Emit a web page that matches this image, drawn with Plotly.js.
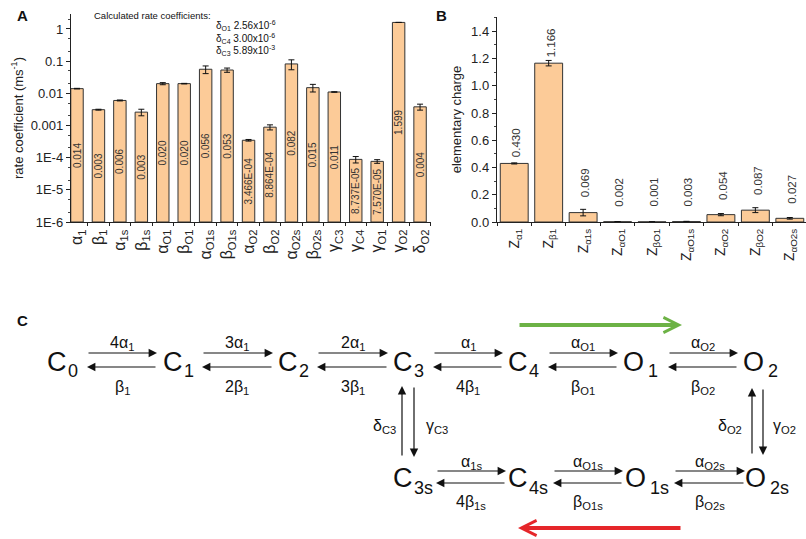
<!DOCTYPE html>
<html><head><meta charset="utf-8">
<script src="https://cdn.plot.ly/plotly-3.0.1.min.js"></script>
<style>html,body{margin:0;padding:0;background:#fff}#chart{width:806px;height:539px}</style>
</head><body><div id="chart"></div>
<script>
// ---------- Panel A data ----------
const rateLabels = ['α<sub>1</sub>','β<sub>1</sub>','α<sub>1s</sub>','β<sub>1s</sub>','α<sub>O1</sub>','β<sub>O1</sub>','α<sub>O1s</sub>','β<sub>O1s</sub>','α<sub>O2</sub>','β<sub>O2</sub>','α<sub>O2s</sub>','β<sub>O2s</sub>','γ<sub>C3</sub>','γ<sub>C4</sub>','γ<sub>O1</sub>','γ<sub>O2</sub>','δ<sub>O2</sub>'];
const rateValues = [0.014, 0.0031, 0.0060, 0.0026, 0.020, 0.020, 0.056, 0.053, 3.466e-4, 8.864e-4, 0.082, 0.015, 0.011, 8.737e-5, 7.570e-5, 1.599, 0.0038];
const rateErrors = [0.0003, 0.0001, 0.0002, 0.0006, 0.0015, 0.0004, 0.015, 0.008, 0.00002, 0.00016, 0.028, 0.004, 0.0002, 0.00002, 0.00001, 0, 0.0008];
const rateText = ['0.014','0.003','0.006','0.003','0.020','0.020','0.056','0.053','3.466E-04','8.864E-04','0.082','0.015','0.011','8.737E-05','7.570E-05','1.599','0.004'];
const rateTickVals = [1e-6, 1e-5, 1e-4, 1e-3, 1e-2, 1e-1, 1];
const rateTickText = ['1E-6','1E-5','1E-4','0.001','0.01','0.1','1'];
const calcTitle = 'Calculated rate coefficients:';
const calcNames = ['δ<sub>O1</sub>','δ<sub>C4</sub>','δ<sub>C3</sub>'];
const calcValues = ['2.56x10<sup>-6</sup>','3.00x10<sup>-6</sup>','5.89x10<sup>-3</sup>'];

// ---------- Panel B data ----------
const chargeLabels = ['Z<sub>α1</sub>','Z<sub>β1</sub>','Z<sub>α1s</sub>','Z<sub>αO1</sub>','Z<sub>βO1</sub>','Z<sub>αO1s</sub>','Z<sub>αO2</sub>','Z<sub>βO2</sub>','Z<sub>αO2s</sub>'];
const chargeValues = [0.430, 1.166, 0.069, 0.002, 0.001, 0.003, 0.054, 0.087, 0.027];
const chargeErrors = [0.004, 0.02, 0.024, 0.001, 0.0005, 0.002, 0.008, 0.018, 0.006];
const chargeText = ['0.430','1.166','0.069','0.002','0.001','0.003','0.054','0.087','0.027'];

// ---------- Panel C scheme ----------
const stateLetters = ['C','C','C','C','C','O','O','C','C','O','O'];
const stateSubs = ['0','1','2','3','4','1','2','3s','4s','1s','2s'];
const fwdLabels = ['4α<sub>1</sub>','3α<sub>1</sub>','2α<sub>1</sub>','α<sub>1</sub>','α<sub>O1</sub>','α<sub>O2</sub>','α<sub>1s</sub>','α<sub>O1s</sub>','α<sub>O2s</sub>'];
const bwdLabels = ['β<sub>1</sub>','2β<sub>1</sub>','3β<sub>1</sub>','4β<sub>1</sub>','β<sub>O1</sub>','β<sub>O2</sub>','4β<sub>1s</sub>','β<sub>O1s</sub>','β<sub>O2s</sub>'];
const vertLabels = [['δ<sub>C3</sub>','γ<sub>C3</sub>'],['δ<sub>O2</sub>','γ<sub>O2</sub>']];

// layout geometry (pixels) for the scheme
const W = 806, H = 539;
const px = x => x / W, py = y => 1 - y / H;
const stateLeft = [47,163,278,393,508,623,743,393,508,625,745];
const stateRow = [0,0,0,0,0,0,0,1,1,1,1];
const rowLetterY = [362, 478];
const rowSubY = [371, 488];
const hArrows = [[87,157,0],[202,273,0],[317,388,0],[433,503,0],[548,618,0],[668,738,0],[436,506,1],[553,623,1],[674,745,1]];
const rowArrowY = [[353,367],[471,483]];
const rowLabelY = [[343,387],[462,502]];
const vArrows = [[402,414,386,457],[752,763,388,455]];
const vLabelX = [[384,437],[730,784]];

const FONT = 'Arial, "Liberation Sans", sans-serif';
const TXT = '#222';
const BAR = '#fccb98';

const traces = [
  {
    type: 'bar', x: rateLabels, y: rateValues, base: 1e-6, xaxis: 'x', yaxis: 'y',
    width: 0.58,
    marker: {color: BAR, line: {color: '#333', width: 1}},
    error_y: {type: 'data', array: rateErrors, visible: true, color: '#111', thickness: 1, width: 3},
    text: rateText, textposition: 'inside', insidetextanchor: 'middle', textangle: -90,
    constraintext: 'none', textfont: {family: FONT, size: 10, color: '#333'},
    hoverinfo: 'x+y'
  },
  {
    type: 'bar', x: chargeLabels, y: chargeValues, xaxis: 'x2', yaxis: 'y2',
    width: 0.81,
    marker: {color: BAR, line: {color: '#333', width: 1}},
    error_y: {type: 'data', array: chargeErrors, visible: true, color: '#111', thickness: 1, width: 3},
    hoverinfo: 'x+y'
  }
];

const ann = [];
const P = (text, x, y, size, extra) => Object.assign({text, x: px(x), y: py(y), xref: 'paper', yref: 'paper', showarrow: false,
  xanchor: 'center', yanchor: 'middle', font: {family: FONT, size, color: '#111'}}, extra || {});
// panel letters
ann.push(P('<b>A</b>', 22, 15, 15));
ann.push(P('<b>B</b>', 442, 15, 15));
ann.push(P('<b>C</b>', 22, 321, 15));
// calculated coefficients
ann.push(P(calcTitle, 92, 15, 9.5, {xanchor: 'left'}));
calcNames.forEach((n, i) => ann.push(P(n + ' ' + calcValues[i], 214, 26 + i * 12.5, 10, {xanchor: 'left'})));
// panel B value labels
chargeText.forEach((t, i) => {
  ann.push({text: t, x: chargeLabels[i], y: chargeValues[i], xref: 'x2', yref: 'y2', textangle: -90,
    xanchor: 'center', yanchor: 'bottom', yshift: chargeValues[i] < 0.2 ? 13 : 4, xshift: 2,
    showarrow: false, font: {family: FONT, size: 11.5, color: '#333'}});
});
// scheme states (letter + subscript)
stateLetters.forEach((s, i) => {
  const r = stateRow[i];
  ann.push(P(s, stateLeft[i] - 2, rowLetterY[r], 27, {xanchor: 'left'}));
  ann.push(P(stateSubs[i], stateLeft[i] + (s === 'O' ? 23 : 19), rowSubY[r], 18, {xanchor: 'left'}));
});
// arrows
function arrow(x0, y0, x1, y1, color, w, head, size) {
  ann.push({text: '', x: px(x1), y: py(y1), xref: 'paper', yref: 'paper', axref: 'pixel', ayref: 'pixel',
    ax: x0 - x1, ay: y0 - y1, showarrow: true, arrowhead: head, arrowsize: size, arrowwidth: w, arrowcolor: color, standoff: 0, startstandoff: 0});
}
hArrows.forEach((a, i) => {
  const [x0, x1, r] = a;
  arrow(x0, rowArrowY[r][0], x1, rowArrowY[r][0], '#111', 1.2, 2, 1.4);
  arrow(x1, rowArrowY[r][1], x0, rowArrowY[r][1], '#111', 1.2, 2, 1.4);
  const cx = (x0 + x1) / 2;
  ann.push(P(fwdLabels[i], cx, rowLabelY[r][0], 16));
  ann.push(P(bwdLabels[i], cx, rowLabelY[r][1], 16));
});
vArrows.forEach((v, i) => {
  const [xu, xd, yt, yb] = v;
  arrow(xu, yb, xu, yt, '#111', 1.2, 2, 1.4);
  arrow(xd, yt, xd, yb, '#111', 1.2, 2, 1.4);
  ann.push(P(vertLabels[i][0], vLabelX[i][0], 426, 16));
  ann.push(P(vertLabels[i][1], vLabelX[i][1], 426, 16));
});
// green and red cycle arrows
arrow(518, 325, 682, 325, '#6cb245', 4, 5, 0.75);
arrow(682, 528, 518, 528, '#e5262a', 4, 5, 0.75);

const axisLine = {showline: true, linecolor: '#222', linewidth: 1.2, showgrid: false, zeroline: false, ticks: 'outside', tickcolor: '#222'};

const layout = {
  width: W, height: H,
  margin: {l: 0, r: 0, t: 0, b: 0},
  paper_bgcolor: '#fff', plot_bgcolor: 'rgba(0,0,0,0)',
  showlegend: false,
  font: {family: FONT, color: TXT},
  xaxis: Object.assign({}, axisLine, {
    domain: [px(71), px(431)], anchor: 'y', type: 'category', range: [-0.28, 16.51],
    tickson: 'boundaries', ticklen: 3, tickangle: -90, tickfont: {family: FONT, size: 16, color: TXT}
  }),
  yaxis: Object.assign({}, axisLine, {
    domain: [1 - 222 / H, 1 - 14 / H], anchor: 'x', type: 'log', range: [-6, 0.466],
    tickvals: rateTickVals, ticktext: rateTickText, ticklen: 4,
    tickfont: {family: FONT, size: 13, color: TXT},
    minor: {ticks: 'outside', ticklen: 2, tickcolor: '#444', dtick: 'D2'},
    title: {text: 'rate coefficient (ms<sup>-1</sup>)', font: {family: FONT, size: 13, color: TXT}, standoff: 4}
  }),
  xaxis2: Object.assign({}, axisLine, {
    domain: [px(497), 1], anchor: 'y2', type: 'category', range: [-0.5, 8.47],
    tickson: 'boundaries', ticklen: 3, tickangle: -90, tickfont: {family: FONT, size: 14, color: TXT}
  }),
  yaxis2: Object.assign({}, axisLine, {
    domain: [1 - 222 / H, 1 - 17 / H], anchor: 'x2', range: [0, 1.505],
    dtick: 0.2, tickformat: '.1f', ticklen: 4,
    tickfont: {family: FONT, size: 13, color: TXT},
    minor: {ticks: 'outside', ticklen: 2, tickcolor: '#444', dtick: 0.1},
    title: {text: 'elementary charge', font: {family: FONT, size: 13, color: TXT}, standoff: 6}
  }),
  annotations: ann
};

Plotly.newPlot('chart', traces, layout, {displayModeBar: false, staticPlot: true});
</script>
</body></html>
